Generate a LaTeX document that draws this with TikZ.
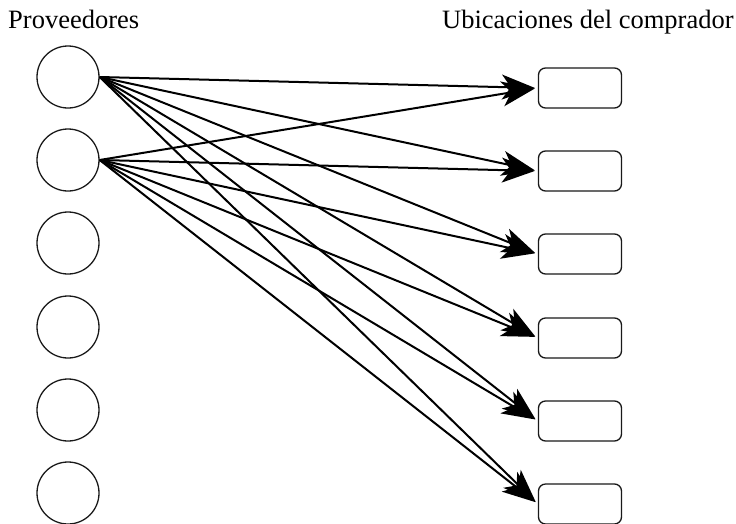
\documentclass[tikz,border=0pt]{standalone}
\usepackage{fontspec}
\setmainfont{Liberation Serif}
\usetikzlibrary{arrows.meta}
\begin{document}
\begin{tikzpicture}[x=1pt,y=-1pt,
  prov/.style={draw=black!90,line width=1.3pt,circle,minimum size=62pt,inner sep=0pt},
  loc/.style={draw=black!90,line width=1.3pt,rounded corners=7pt,minimum width=83pt,minimum height=40pt,inner sep=0pt},
  link/.style={line width=2pt,shorten >=3pt,-{Stealth[length=33pt,width=25pt,inset=9pt]}},
  lbl/.style={font=\fontsize{26.5}{30}\selectfont,anchor=base west,inner sep=0pt}]
\useasboundingbox (0,0) rectangle (736,523);
\node[lbl] (tp) at (8,28) {Proveedores};
\node[lbl] (tu) at (442,28) {Ubicaciones del comprador};
\foreach \i/\y in {1/77,2/160,3/243,4/327,5/410,6/493}{
  \node[prov] (c\i) at (68,\y) {};
}
\foreach \i/\y in {1/88,2/171,3/254,4/338,5/421,6/504}{
  \node[loc] (b\i) at (580,\y) {};
}
\foreach \j in {1,...,6}{
  \draw[link] (c1.east) -- (b\j.west);
  \draw[link] (c2.east) -- (b\j.west);
}
\end{tikzpicture}
\end{document}
